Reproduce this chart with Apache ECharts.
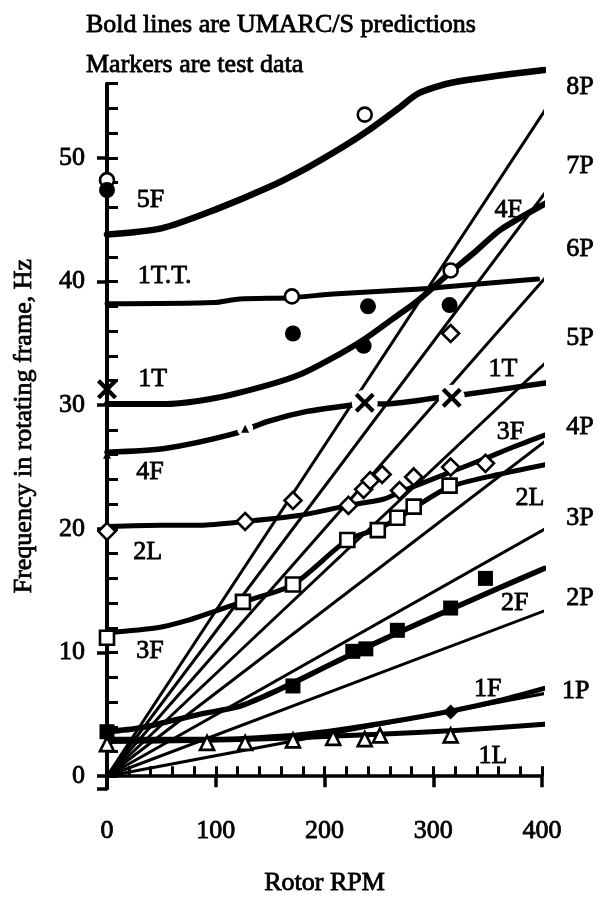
<!DOCTYPE html>
<html>
<head>
<meta charset="utf-8">
<script src="https://cdn.jsdelivr.net/npm/echarts@6/dist/echarts.min.js"></script>
<style>
  html, body { margin: 0; padding: 0; background: #fff; }
  #chart { width: 600px; height: 902px; }
</style>
</head>
<body>
<div id="chart"></div>
<script>
// Fan plot: rotating-frame blade frequencies versus rotor speed.

// Axis tick labels
const rpmTicks = [0, 100, 200, 300, 400];
const hzTicks = [0, 10, 20, 30, 40, 50];

// Predicted modes (bold lines), [rpm, Hz]
const mode5F = [[0, 43.8], [50, 44.3], [99, 45.8], [148, 47.6], [184, 49.2], [219, 51.0], [240, 52.2], [268, 54.0], [286, 55.2], [318, 56.1], [402, 57.1]];
const mode1TT = [[0, 38.2], [98, 38.3], [122, 38.6], [170, 38.7], [208, 39.0], [288, 39.4], [315, 39.6], [396, 40.2]];
const mode1Tto4F = [[0, 30.1], [55, 30.1], [101, 30.6], [147, 31.6], [178, 32.5], [205, 33.7], [236, 35.3], [263, 37.0], [285, 38.4], [315, 40.7], [337, 42.3], [362, 44.2], [405, 46.4]];
const mode4Fto1T = [[0, 26.2], [53, 26.5], [117, 27.7], [148, 28.7], [184, 29.5], [224, 30.0], [237, 30.2], [254, 30.1], [304, 30.6], [316, 30.7], [403, 31.8]];
const mode2Lto3F = [[0, 20.2], [50, 20.3], [86, 20.3], [127, 20.6], [178, 21.1], [222, 21.9], [254, 22.4], [270, 23.0], [316, 24.6], [348, 25.7], [373, 26.6], [403, 27.6]];
const mode3Fto2L = [[0, 11.6], [46, 12.0], [74, 12.6], [101, 13.4], [125, 14.1], [171, 15.5], [221, 19.1], [249, 20.0], [270, 21.0], [282, 21.7], [315, 23.4], [360, 24.4], [403, 25.2]];
const mode2F = [[0, 3.6], [30, 3.9], [60, 4.5], [90, 5.1], [120, 5.6], [148, 6.6], [170, 7.5], [200, 8.8], [226, 9.9], [265, 11.5], [316, 13.5], [360, 15.2], [402, 16.8]];
const mode1F = [[0, 3.0], [100, 3.0], [170, 3.3], [209, 3.7], [254, 4.3], [318, 5.3], [360, 6.1], [402, 7.1]];
const mode1L = [[0, 2.8], [92, 2.9], [170, 3.1], [250, 3.4], [320, 3.7], [402, 4.2]];

// Per-rev excitation lines, from the origin to their end points
const perRevNames = ['1P', '2P', '3P', '4P', '5P', '6P', '7P', '8P'];
const perRevEndRpm = 415;
const perRevEndHz = [6.9, 13.8, 20.6, 27.9, 34.4, 41.5, 48.6, 55.5];

// Test data (markers), [rpm, Hz]
const openCircles = [[0, 48.2], [237, 53.5], [170, 38.8], [316, 40.9]];
const filledCircles = [[0, 47.4], [171, 35.8], [240, 38.0], [236, 34.8], [315, 38.1]];
const crosses = [[0, 31.3], [237, 30.2], [317, 30.6]];
const smallTriangles = [[0, 26.0], [127, 28.1]];
const openDiamonds = [[0, 19.8], [127, 20.6], [171, 22.3], [222, 21.9], [236, 23.2], [242, 23.9], [253, 24.4], [269, 23.1], [282, 24.2], [316, 25.0], [348, 25.3], [316, 35.8]];
const openSquares = [[0, 11.2], [125, 14.1], [171, 15.5], [221, 19.1], [249, 19.9], [267, 20.9], [282, 21.8], [315, 23.5]];
const filledSquares = [[0, 3.6], [171, 7.3], [226, 10.1], [238, 10.3], [267, 11.8], [316, 13.6], [348, 16.0]];
const openTriangles = [[0, 2.6], [92, 2.7], [127, 2.7], [171, 2.9], [208, 3.1], [237, 3.0], [251, 3.3], [316, 3.3]];
const filledDiamonds = [[316, 5.2]];

// Curve / line names and where their captions sit (axis units)
const captionText = ['5F', '1T.T.', '1T', '4F', '2L', '3F',
  '8P', '7P', '4F', '6P', '5P', '1T', '3F', '4P', '2L', '3P', '2F', '2P', '1F', '1P', '1L'];
const captionAt = [[40, 46.6], [53, 40.4], [42, 32.1], [39.5, 24.6], [37.5, 18.1], [39.5, 10.1],
  [435, 55.7], [435, 49.3], [369, 45.8], [435, 42.6], [435, 35.4], [364, 32.9], [371, 27.8], [435, 28.2],
  [389, 22.5], [435, 20.9], [375, 14.0], [435, 14.4], [350, 7.0], [431, 6.9], [355, 1.6]];

const FONT = "'Liberation Serif', 'Times New Roman', serif";
const INK = '#000';
const TEXT = { fontFamily: FONT, fontSize: 26, fontWeight: 'normal', color: INK,
  textBorderColor: INK, textBorderWidth: 0.8 };

const minorHz = [];
for (let v = 0; v <= 56; v += 2) minorHz.push(v);
const minorRpm = [];
for (let v = 20; v <= 400; v += 20) minorRpm.push(v);

function boldCurve(data, width) {
  return {
    type: 'line', data: data, smooth: 0.25,
    showSymbol: false, clip: false, silent: true, z: 3,
    lineStyle: { color: INK, width: width, opacity: 1, cap: 'round', join: 'round' }
  };
}

function markers(data, symbol, size, filled, z) {
  return {
    type: 'scatter', data: data, symbol: symbol, symbolSize: size,
    clip: false, silent: true, z: z || 5,
    itemStyle: filled
      ? { color: INK, opacity: 1 }
      : { color: '#fff', borderColor: INK, borderWidth: 2.6, opacity: 1 }
  };
}

const series = [];

perRevEndHz.forEach(function (hz, i) {
  series.push({
    type: 'line', name: perRevNames[i],
    data: [[0, 0], [perRevEndRpm, hz]],
    showSymbol: false, clip: false, silent: true, z: 2,
    lineStyle: { color: INK, width: 3, opacity: 1 }
  });
});

series.push(boldCurve(mode5F, 6.5));
series.push(boldCurve(mode1TT, 5));
series.push(boldCurve(mode1Tto4F, 6));
series.push(boldCurve(mode4Fto1T, 5.5));
series.push(boldCurve(mode2Lto3F, 5));
series.push(boldCurve(mode3Fto2L, 5));
series.push(boldCurve(mode2F, 5.5));
series.push(boldCurve(mode1F, 5));
series.push(boldCurve(mode1L, 5));

// white clearances behind the cross and small triangle markers on the curves
series.push({
  type: 'scatter', silent: true, clip: false, z: 4, symbol: 'circle',
  data: crosses.filter(function (p) { return p[0] > 0; }), symbolSize: 26,
  itemStyle: { color: '#fff', opacity: 1 }
});
series.push({
  type: 'scatter', silent: true, clip: false, z: 4, symbol: 'circle',
  data: smallTriangles.filter(function (p) { return p[0] > 0; }), symbolSize: 16,
  itemStyle: { color: '#fff', opacity: 1 }
});

const crossPath = 'path://M0,3 L3,0 L10,7 L17,0 L20,3 L13,10 L20,17 L17,20 L10,13 L3,20 L0,17 L7,10 Z';

series.push(markers(openCircles, 'circle', 14, false));
series.push(markers(filledCircles, 'circle', 16, true));
series.push(markers(crosses, crossPath, 20, true));
series.push(markers(smallTriangles, 'triangle', 8, true));
series.push(markers(openDiamonds, 'diamond', 17, false));
series.push(markers(openSquares, 'rect', 14, false));
series.push(markers(filledSquares, 'rect', 15, true));
series.push(markers(openTriangles, 'triangle', 14, false));
series.push(markers(filledDiamonds, 'diamond', 15, true));

series.push({
  type: 'scatter', silent: true, clip: false, z: 6, symbolSize: 0,
  itemStyle: { opacity: 1 },
  data: captionText.map(function (t, i) { return { name: t, value: captionAt[i] }; }),
  label: Object.assign({ show: true, position: 'inside', formatter: '{b}', opacity: 1 }, TEXT)
});

const option = {
  animation: false,
  backgroundColor: '#fff',
  title: [
    { text: 'Bold lines are UMARC/S predictions', left: 86, top: 12, padding: 0, textStyle: TEXT },
    { text: 'Markers are test data', left: 86, top: 52, padding: 0, textStyle: TEXT }
  ],
  grid: { left: 107, right: 58, top: 83.7, bottom: 93.8 },
  xAxis: [
    {
      type: 'value', min: 0, max: 400, position: 'bottom',
      axisLine: { show: true, onZero: true, lineStyle: { color: INK, width: 3.5 } },
      axisTick: { show: true, inside: true, length: 10, customValues: minorRpm,
        lineStyle: { color: INK, width: 3 } },
      axisLabel: Object.assign({ customValues: rpmTicks, margin: 30 }, TEXT),
      splitLine: { show: false },
      name: 'Rotor RPM', nameLocation: 'middle', nameGap: 82,
      nameTextStyle: TEXT
    },
    {
      type: 'value', min: 0, max: 400, position: 'bottom',
      axisLine: { show: false, onZero: true },
      axisTick: { show: true, inside: false, length: 11, customValues: rpmTicks.slice(1),
        lineStyle: { color: INK, width: 3.5 } },
      axisLabel: { show: false },
      splitLine: { show: false }
    }
  ],
  yAxis: [
    {
      type: 'value', min: -1, max: 56, position: 'left',
      axisLine: { show: true, onZero: false, lineStyle: { color: INK, width: 4 } },
      axisTick: { show: true, inside: true, length: 11, customValues: minorHz,
        lineStyle: { color: INK, width: 3 } },
      axisLabel: Object.assign({ customValues: hzTicks, margin: 22 }, TEXT),
      splitLine: { show: false },
      name: 'Frequency in rotating frame, Hz', nameLocation: 'middle', nameGap: 70,
      nameRotate: 90,
      nameTextStyle: Object.assign({ padding: [0, 0, 0, 20] }, TEXT)
    },
    {
      type: 'value', min: -1, max: 56, position: 'left',
      axisLine: { show: false, onZero: false },
      axisTick: { show: true, inside: false, length: 10, customValues: [-1].concat(hzTicks),
        lineStyle: { color: INK, width: 3.5 } },
      axisLabel: { show: false },
      splitLine: { show: false }
    }
  ],
  series: series
};

const chart = echarts.init(document.getElementById('chart'), null, { renderer: 'canvas' });
chart.setOption(option);
</script>
</body>
</html>
